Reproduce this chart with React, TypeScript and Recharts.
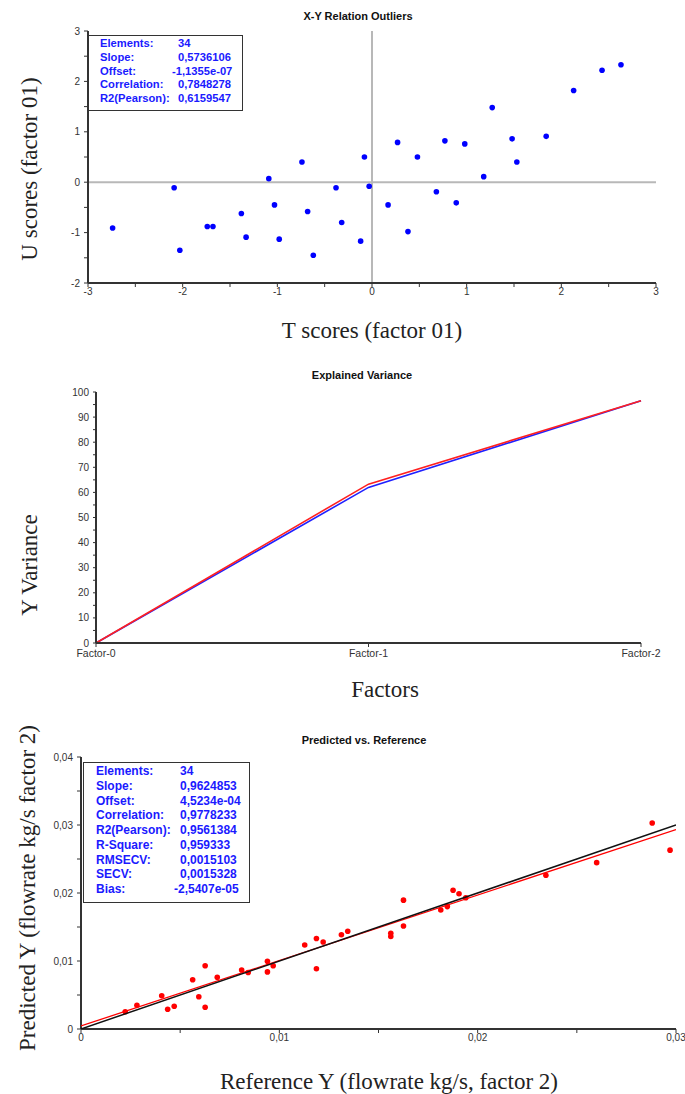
import React from 'react';
import { ScatterChart, Scatter, XAxis, YAxis, ReferenceLine, LineChart, Line } from 'recharts';

// ---------- Chart 1: X-Y Relation Outliers ----------
const tScores = [-2.74, -2.09, -2.03, -1.74, -1.68, -1.38, -1.33, -1.09, -1.03, -0.98, -0.74, -0.68, -0.62, -0.38, -0.32, -0.12, -0.08, -0.03, 0.17, 0.27, 0.38, 0.48, 0.68, 0.77, 0.89, 0.98, 1.18, 1.27, 1.48, 1.53, 1.84, 2.13, 2.43, 2.63];
const uScores = [-0.91, -0.11, -1.35, -0.88, -0.88, -0.62, -1.09, 0.07, -0.45, -1.13, 0.40, -0.58, -1.45, -0.11, -0.80, -1.17, 0.50, -0.08, -0.45, 0.79, -0.98, 0.50, -0.19, 0.82, -0.41, 0.76, 0.11, 1.48, 0.86, 0.40, 0.91, 1.82, 2.22, 2.33];
const tTicks = [-3, -2.5, -2, -1.5, -1, -0.5, 0, 0.5, 1, 1.5, 2, 2.5, 3];
const uTicks = [-2, -1.5, -1, -0.5, 0, 0.5, 1, 1.5, 2, 2.5, 3];
const xyStatLabels = ['Elements:', 'Slope:', 'Offset:', 'Correlation:', 'R2(Pearson):'];
const xyStatValues = ['34', '0,5736106', '-1,1355e-07', '0,7848278', '0,6159547'];

// ---------- Chart 2: Explained Variance ----------
const factorLabels = ['Factor-0', 'Factor-1', 'Factor-2'];
const varianceBlue = [0, 62.0, 96.5];
const varianceRed = [0, 63.3, 96.5];
const varianceTicks = [0, 5, 10, 15, 20, 25, 30, 35, 40, 45, 50, 55, 60, 65, 70, 75, 80, 85, 90, 95, 100];

// ---------- Chart 3: Predicted vs. Reference ----------
const refY = [0.00223, 0.00282, 0.00407, 0.00437, 0.0047, 0.00563, 0.00594, 0.00626, 0.00626, 0.00687, 0.0081, 0.00843, 0.0094, 0.0094, 0.00969, 0.01128, 0.01187, 0.01187, 0.01221, 0.01313, 0.01345, 0.01562, 0.01562, 0.01626, 0.01626, 0.01814, 0.01847, 0.01876, 0.01906, 0.0194, 0.02344, 0.026, 0.0288, 0.0297];
const predY = [0.00254, 0.00348, 0.0049, 0.0029, 0.00334, 0.00725, 0.00475, 0.0093, 0.0032, 0.0076, 0.00868, 0.0083, 0.00996, 0.0084, 0.0093, 0.01235, 0.0133, 0.00887, 0.0128, 0.01387, 0.01437, 0.01409, 0.0136, 0.01895, 0.01515, 0.0175, 0.018, 0.0204, 0.0199, 0.0193, 0.0226, 0.02446, 0.0303, 0.0263];
const refTicks = [0, 0.005, 0.01, 0.015, 0.02, 0.025, 0.03];
const predTicks = [0, 0.005, 0.01, 0.015, 0.02, 0.025, 0.03, 0.035, 0.04];
const fitSlope = 0.9624853;
const fitOffset = 4.5234e-4;
const fitRange = [0, 0.03];
const pvStatLabels = ['Elements:', 'Slope:', 'Offset:', 'Correlation:', 'R2(Pearson):', 'R-Square:', 'RMSECV:', 'SECV:', 'Bias:'];
const pvStatValues = ['34', '0,9624853', '4,5234e-04', '0,9778233', '0,9561384', '0,959333', '0,0015103', '0,0015328', '-2,5407e-05'];

const xyData = tScores.map((t, i) => ({ x: t, y: uScores[i] }));
const varianceData = factorLabels.map((_, i) => ({ f: i, blue: varianceBlue[i], red: varianceRed[i] }));
const pvData = refY.map((r, i) => ({ x: r, y: predY[i] }));
const targetLine = fitRange.map((v) => ({ x: v, y: v }));
const regLine = fitRange.map((v) => ({ x: v, y: fitSlope * v + fitOffset }));

const SANS = '"Liberation Sans", Arial, sans-serif';
const SERIF = '"Liberation Serif", "Times New Roman", serif';
const tickStyle = { fill: '#333', fontSize: 10, fontFamily: SANS };
const axisLineStyle = { stroke: '#333', strokeWidth: 2 };
const tickLineStyle = { stroke: '#333', strokeWidth: 1 };

const isWhole = (v: number) => Math.abs(v - Math.round(v)) < 1e-9;
const fmtComma = (v: number) => (v === 0 ? '0' : String(Number(v.toFixed(3))).replace('.', ','));

const Title = ({ text, x, y }: { text: string; x: number; y: number }) => (
  <div style={{ position: 'absolute', left: x - 150, top: y - 7, width: 300, textAlign: 'center', fontFamily: SANS, fontWeight: 'bold', fontSize: 11, lineHeight: '14px', color: '#111' }}>{text}</div>
);

const HLabel = ({ text, x, y }: { text: string; x: number; y: number }) => (
  <div style={{ position: 'absolute', left: x - 250, top: y - 14, width: 500, textAlign: 'center', fontFamily: SERIF, fontSize: 23, lineHeight: '28px', color: '#222', whiteSpace: 'nowrap' }}>{text}</div>
);

const VLabel = ({ text, x, y }: { text: string; x: number; y: number }) => (
  <div style={{ position: 'absolute', left: x - 250, top: y - 14, width: 500, textAlign: 'center', fontFamily: SERIF, fontSize: 23, lineHeight: '28px', color: '#222', whiteSpace: 'nowrap', transform: 'rotate(-90deg)', transformOrigin: '250px 14px' }}>{text}</div>
);

const StatBox = ({ labels, values, left, top, width, height, fontSize, lineHeight, padLeft, labelCol }: any) => (
  <div style={{ position: 'absolute', left, top, width, height, boxSizing: 'border-box', border: '1.5px solid #333', background: '#fff', paddingLeft: padLeft, paddingTop: 1, fontFamily: SANS, fontWeight: 'bold', fontSize, lineHeight: lineHeight + 'px', color: '#1a1aff' }}>
    {labels.map((l: string, i: number) => (
      <div key={l} style={{ display: 'flex', whiteSpace: 'nowrap' }}>
        <span style={{ width: labelCol, display: 'inline-block' }}>{l}</span>
        <span style={{ marginLeft: values[i].startsWith('-') ? -6 : 0 }}>{values[i]}</span>
      </div>
    ))}
  </div>
);

const dot = (color: string, r: number) => (p: any) => <circle cx={p.cx} cy={p.cy} r={r} fill={color} />;
const noDot = () => <g />;

export default function App() {
  return (
    <div style={{ position: 'absolute', left: 0, top: 0, width: 685, height: 1094, background: '#fff', overflow: 'hidden' }}>
      {/* Chart 1 */}
      <div style={{ position: 'absolute', left: 0, top: 0 }}>
        <ScatterChart width={685} height={300} margin={{ top: 31, right: 29, bottom: 0, left: 0 }}>
          <XAxis type="number" dataKey="x" domain={[-3, 3]} ticks={tTicks} interval={0} allowDataOverflow
            tickFormatter={(v: number) => (isWhole(v) ? String(v) : '')} height={17} tick={tickStyle}
            axisLine={axisLineStyle} tickLine={tickLineStyle} tickSize={4} tickMargin={1} />
          <YAxis type="number" dataKey="y" domain={[-2, 3]} ticks={uTicks} interval={0} allowDataOverflow
            tickFormatter={(v: number) => (isWhole(v) ? String(v) : '')} width={88} tick={tickStyle}
            axisLine={axisLineStyle} tickLine={tickLineStyle} tickSize={4} tickMargin={4} />
          <ReferenceLine x={0} stroke="#b8b8b8" strokeWidth={2} />
          <ReferenceLine y={0} stroke="#b8b8b8" strokeWidth={2} />
          <Scatter data={xyData} isAnimationActive={false} shape={dot('#0000ff', 2.8)} />
        </ScatterChart>
      </div>
      <Title text="X-Y Relation Outliers" x={358} y={16} />
      <StatBox labels={xyStatLabels} values={xyStatValues} left={88} top={35} width={155} height={76}
        fontSize={11.2} lineHeight={13.75} padLeft={11} labelCol={78} />
      <VLabel text="U scores (factor 01)" x={30} y={169} />
      <HLabel text="T scores (factor 01)" x={372} y={331} />

      {/* Chart 2 */}
      <div style={{ position: 'absolute', left: 0, top: 360 }}>
        <LineChart width={685} height={300} data={varianceData} margin={{ top: 32, right: 44, bottom: 0, left: 0 }}>
          <XAxis type="number" dataKey="f" domain={[0, 2]} ticks={[0, 1, 2]} interval={0}
            tickFormatter={(v: number) => factorLabels[v]} height={17} tick={{ ...tickStyle, fontSize: 10.5 }}
            axisLine={axisLineStyle} tickLine={tickLineStyle} tickSize={4} tickMargin={3} />
          <YAxis type="number" domain={[0, 100]} ticks={varianceTicks} interval={0}
            tickFormatter={(v: number) => (v % 10 === 0 ? String(v) : '')} width={96} tick={tickStyle}
            axisLine={axisLineStyle} tickLine={tickLineStyle} tickSize={3} tickMargin={4} />
          <Line type="linear" dataKey="blue" stroke="#2020ff" strokeWidth={1.6} dot={false} isAnimationActive={false} />
          <Line type="linear" dataKey="red" stroke="#ff2020" strokeWidth={1.6} dot={false} isAnimationActive={false} />
        </LineChart>
      </div>
      <Title text="Explained Variance" x={362} y={375} />
      <VLabel text="Y Variance" x={30} y={565} />
      <HLabel text="Factors" x={385} y={690} />

      {/* Chart 3 */}
      <div style={{ position: 'absolute', left: 0, top: 725 }}>
        <ScatterChart width={685} height={320} margin={{ top: 32, right: 9, bottom: 0, left: 0 }}>
          <XAxis type="number" dataKey="x" domain={[0, 0.03]} ticks={refTicks} interval={0} allowDataOverflow
            tickFormatter={(v: number) => (isWhole(v * 100) ? fmtComma(v) : '')} height={16} tick={tickStyle}
            axisLine={axisLineStyle} tickLine={tickLineStyle} tickSize={4} tickMargin={1} />
          <YAxis type="number" dataKey="y" domain={[0, 0.04]} ticks={predTicks} interval={0} allowDataOverflow
            tickFormatter={(v: number) => (isWhole(v * 100) ? fmtComma(v) : '')} width={81} tick={tickStyle}
            axisLine={axisLineStyle} tickLine={tickLineStyle} tickSize={4} tickMargin={4} />
          <Scatter data={pvData} isAnimationActive={false} shape={dot('#ff0000', 2.8)} />
          <Scatter data={regLine} isAnimationActive={false} line={{ stroke: '#ff0000', strokeWidth: 1.3 }} shape={noDot} />
          <Scatter data={targetLine} isAnimationActive={false} line={{ stroke: '#111', strokeWidth: 1.5 }} shape={noDot} />
        </ScatterChart>
      </div>
      <Title text="Predicted vs. Reference" x={364} y={740} />
      <StatBox labels={pvStatLabels} values={pvStatValues} left={83} top={762} width={167} height={141}
        fontSize={12} lineHeight={14.75} padLeft={12} labelCol={84} />
      <VLabel text="Predicted Y (flowrate kg/s factor 2)" x={28} y={888} />
      <HLabel text="Reference Y (flowrate kg/s, factor 2)" x={389} y={1082} />
    </div>
  );
}
